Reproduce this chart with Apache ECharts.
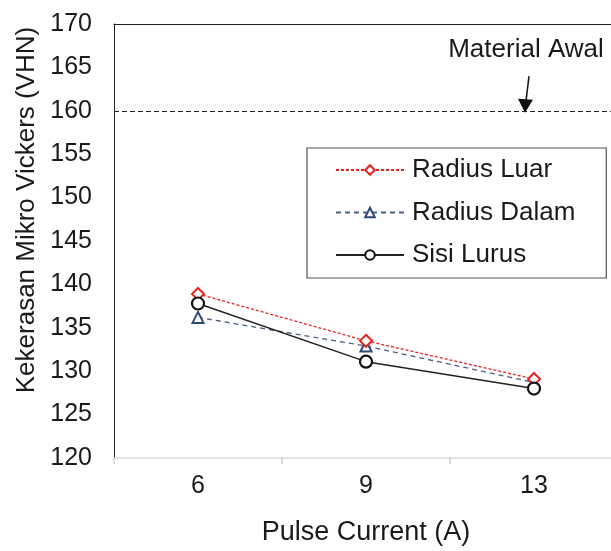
<!DOCTYPE html>
<html lang="en">
<head>
    <meta charset="UTF-8">
    <title>Kekerasan Mikro Vickers</title>
    <style>
        html, body {
            width: 100%;
            height: 100%;
            margin: 0;
            padding: 0;
            overflow: hidden;
            background: #fff;
        }
        /* plot area runs a little past the right edge, like the cropped original */
        #main {
            width: 618px;
            height: 551px;
        }
    </style>
    <script src="https://cdn.jsdelivr.net/npm/echarts@6/dist/echarts.min.js"></script>
</head>
<body>
    <div id="main"></div>
    <script>
        var categories = ['6', '9', '13'];
        var radiusLuar = [138.9, 133.5, 129.1];
        var radiusDalam = [136.2, 132.9, 128.7];
        var sisiLurus = [137.8, 131.1, 128.0];
        var materialAwal = 160;

        var font = 'Liberation Sans, Arial, sans-serif';
        var chart = echarts.init(document.getElementById('main'));

        chart.setOption({
            animation: false,
            textStyle: { fontFamily: font },
            grid: { left: 114, right: 0, top: 24, bottom: 88 },
            legend: {
                orient: 'vertical',
                left: 307,
                top: 148,
                padding: [9, 31, 10, 28],
                itemGap: 16.5,
                itemWidth: 68,
                itemHeight: 12,
                borderColor: '#555',
                borderWidth: 1.2,
                backgroundColor: '#fff',
                textStyle: { fontSize: 26, lineHeight: 26, color: '#1a1a1a', fontFamily: font, padding: [0, 0, 0, 3] },
                data: ['Radius Luar', 'Radius Dalam', 'Sisi Lurus']
            },
            xAxis: [{
                type: 'category',
                data: categories,
                name: 'Pulse Current (A)',
                nameLocation: 'middle',
                nameGap: 61,
                nameTextStyle: { fontSize: 27, color: '#1a1a1a' },
                axisLine: { lineStyle: { color: '#d9d9d9', width: 1.5 } },
                axisTick: { show: true, length: 6, lineStyle: { color: '#d0d0d0', width: 1.5 } },
                axisLabel: { fontSize: 25, color: '#1a1a1a', margin: 16 }
            }, {
                type: 'category',
                position: 'top',
                data: categories,
                axisLine: { lineStyle: { color: '#222', width: 1 } },
                axisTick: { show: false },
                axisLabel: { show: false }
            }],
            yAxis: {
                type: 'value',
                min: 120,
                max: 170,
                interval: 5,
                name: 'Kekerasan Mikro Vickers (VHN)',
                nameLocation: 'middle',
                nameGap: 73,
                nameTextStyle: { fontSize: 26, color: '#1a1a1a', padding: [0, 0, 0, 62] },
                axisLine: { show: true, lineStyle: { color: '#222', width: 1 } },
                axisTick: { show: false },
                splitLine: { show: false },
                axisLabel: { fontSize: 25, color: '#1a1a1a', margin: 22 }
            },
            series: [{
                name: 'Radius Luar',
                type: 'line',
                data: radiusLuar,
                symbol: 'diamond',
                symbolSize: 12,
                itemStyle: { color: '#fff', borderColor: '#e8231f', borderWidth: 2 },
                lineStyle: { color: '#e8231f', width: 1.3, type: [3, 2] },
                z: 4,
                markLine: {
                    silent: true,
                    symbol: 'none',
                    label: { show: false },
                    lineStyle: { color: '#222', width: 1, type: [5, 3] },
                    data: [{ yAxis: materialAwal }]
                }
            }, {
                name: 'Radius Dalam',
                type: 'line',
                data: radiusDalam,
                symbol: 'triangle',
                symbolSize: 11,
                itemStyle: { color: '#fff', borderColor: '#2f4a7a', borderWidth: 2 },
                lineStyle: { color: '#4a5f80', width: 1.3, type: [5, 4] },
                z: 3
            }, {
                name: 'Sisi Lurus',
                type: 'line',
                data: sisiLurus,
                symbol: 'circle',
                symbolSize: 12,
                itemStyle: { color: '#fff', borderColor: '#111', borderWidth: 2.2 },
                lineStyle: { color: '#222', width: 1.5 },
                z: 5
            }]
        });

        // annotation text + arrow pointing at the 160 line
        var tip = chart.convertToPixel({ xAxisIndex: 0, yAxisIndex: 0 }, ['13', materialAwal]);
        var tail = chart.convertToPixel({ xAxisIndex: 0, yAxisIndex: 0 }, ['13', 164]);
        chart.setOption({
            graphic: [{
                type: 'text',
                x: tip[0] - 8,
                y: tail[1] - 13,
                style: {
                    text: 'Material Awal',
                    font: '26px ' + font,
                    fill: '#1a1a1a',
                    align: 'center',
                    verticalAlign: 'bottom'
                }
            }, {
                type: 'line',
                shape: { x1: tail[0] - 5, y1: tail[1], x2: tip[0] - 8, y2: tip[1] - 10 },
                style: { stroke: '#111', lineWidth: 1.5 }
            }, {
                type: 'polygon',
                shape: {
                    points: [[tip[0] - 9, tip[1] + 2], [tip[0] - 16, tip[1] - 12], [tip[0] - 1, tip[1] - 11]]
                },
                style: { fill: '#111' }
            }]
        });
    </script>
</body>
</html>
